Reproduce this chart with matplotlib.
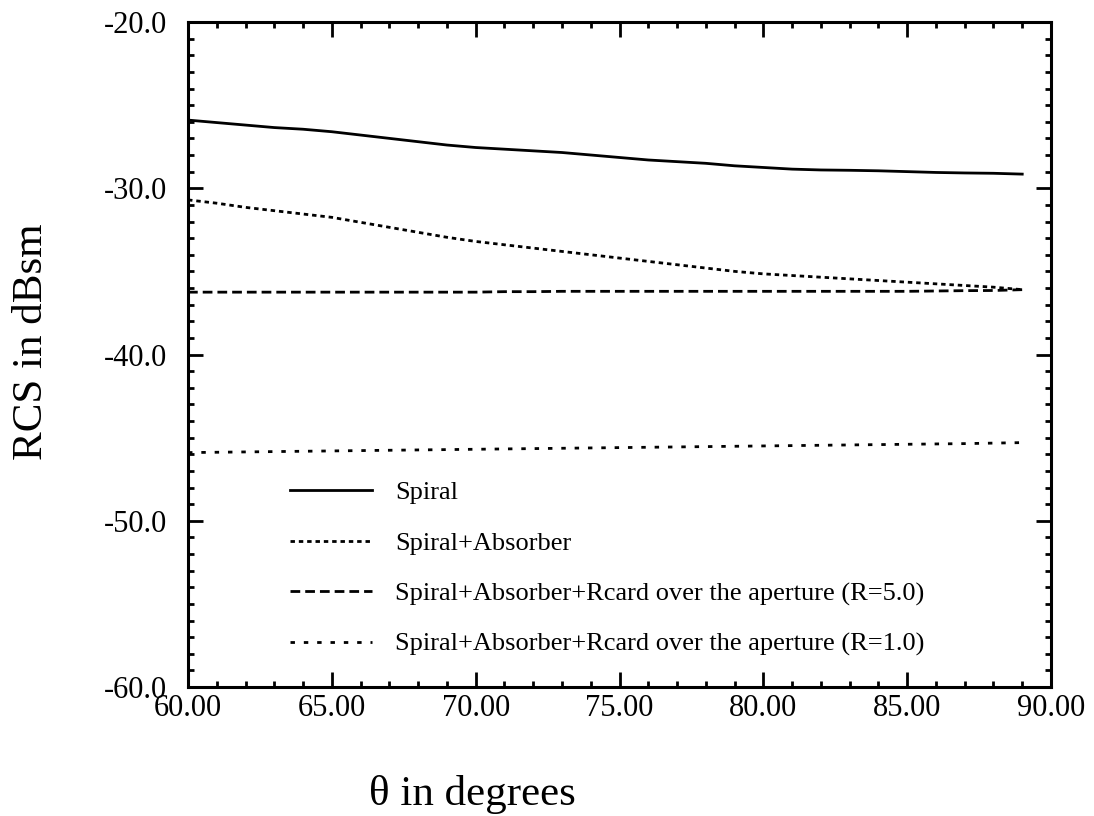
import matplotlib
matplotlib.use("Agg")
import matplotlib.pyplot as plt
from matplotlib.ticker import MultipleLocator, FormatStrFormatter

plt.rcParams['font.family'] = ['Liberation Serif', 'DejaVu Serif']
plt.rcParams['axes.unicode_minus'] = False

theta = list(range(60, 90))

spiral = [-25.9, -26.05, -26.2, -26.35, -26.45, -26.6, -26.8, -27.0, -27.2, -27.4,
          -27.55, -27.65, -27.75, -27.85, -28.0, -28.15, -28.3, -28.4, -28.5, -28.65,
          -28.75, -28.85, -28.9, -28.92, -28.95, -29.0, -29.05, -29.08, -29.1, -29.15]

spiral_abs = [-30.7, -30.9, -31.15, -31.35, -31.55, -31.75, -32.05, -32.35, -32.65, -32.95,
              -33.2, -33.4, -33.6, -33.8, -34.0, -34.2, -34.4, -34.6, -34.8, -35.0,
              -35.15, -35.25, -35.35, -35.45, -35.55, -35.65, -35.75, -35.85, -35.95, -36.1]

rcard_r5 = [-36.25, -36.25, -36.25, -36.25, -36.25, -36.25, -36.25, -36.25, -36.25, -36.25,
            -36.25, -36.22, -36.22, -36.2, -36.2, -36.2, -36.2, -36.2, -36.2, -36.2,
            -36.2, -36.2, -36.2, -36.2, -36.2, -36.2, -36.18, -36.16, -36.15, -36.1]

rcard_r1 = [-45.9, -45.88, -45.86, -45.84, -45.82, -45.8, -45.78, -45.76, -45.74, -45.72,
            -45.7, -45.68, -45.66, -45.64, -45.62, -45.6, -45.58, -45.56, -45.54, -45.52,
            -45.5, -45.48, -45.46, -45.44, -45.42, -45.4, -45.38, -45.36, -45.33, -45.3]

labels = ["Spiral",
          "Spiral+Absorber",
          "Spiral+Absorber+Rcard over the aperture (R=5.0)",
          "Spiral+Absorber+Rcard over the aperture (R=1.0)"]

fig = plt.figure(figsize=(10.94, 8.16), dpi=100)
ax = fig.add_axes([188/1094, 1-687/816, (1051-188)/1094, (687-22)/816])

lw = 2.0
ax.plot(theta, spiral, color='black', lw=lw, linestyle='-', label=labels[0])
ax.plot(theta, spiral_abs, color='black', lw=lw, linestyle=(0, (1.6, 1.4)), label=labels[1])
ax.plot(theta, rcard_r5, color='black', lw=lw, linestyle=(0, (3.5, 1.8)), label=labels[2])
ax.plot(theta, rcard_r1, color='black', lw=lw, linestyle=(0, (1.6, 3.2)), label=labels[3])

ax.set_xlim(60, 90)
ax.set_ylim(-60, -20)
ax.xaxis.set_major_locator(MultipleLocator(5))
ax.xaxis.set_minor_locator(MultipleLocator(1))
ax.yaxis.set_major_locator(MultipleLocator(10))
ax.yaxis.set_minor_locator(MultipleLocator(1))
ax.xaxis.set_major_formatter(FormatStrFormatter('%.2f'))
ax.yaxis.set_major_formatter(FormatStrFormatter('%.1f'))

ax.tick_params(which='both', direction='in', top=True, right=True, width=2, color='black')
ax.tick_params(which='major', length=11)
ax.tick_params(which='minor', length=4.5)
ax.tick_params(axis='x', which='major', labelsize=22, pad=5)
ax.tick_params(axis='y', which='major', labelsize=22, pad=15)
for s in ax.spines.values():
    s.set_linewidth(2.2)

ax.set_xlabel("θ in degrees", fontsize=31)
ax.xaxis.label.set_va('center')
ax.xaxis.set_label_coords((472-188)/863, (687-794)/665)
ax.set_ylabel("RCS in dBsm", fontsize=31)
ax.yaxis.label.set_va('center')
ax.yaxis.set_label_coords((32-188)/863, (687-342)/665)

ax.legend(loc='upper left', bbox_to_anchor=((290-188)/863, (687-481)/665),
          frameon=False, fontsize=19, handlelength=3.1, handletextpad=0.87,
          labelspacing=1.02, borderpad=0, borderaxespad=0)

fig.savefig("out.png", dpi=100)
